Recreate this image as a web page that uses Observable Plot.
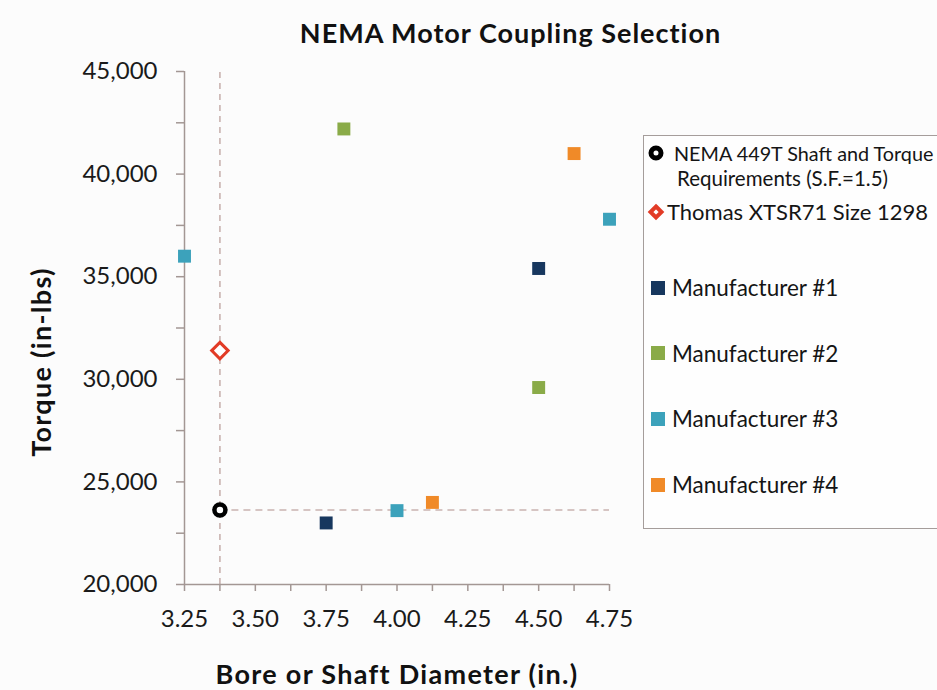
<!DOCTYPE html>
<html><head><meta charset="utf-8">
<script src="https://cdn.jsdelivr.net/npm/d3@7"></script>
<script src="https://cdn.jsdelivr.net/npm/@observablehq/plot@0.6"></script>
<style>
body{margin:0;background:#fcfcfc;font-family:Lato,"Open Sans",sans-serif;overflow:hidden;}
#wrap{position:relative;width:937px;height:690px;overflow:hidden;background:#fcfcfc;}
#title{height:55px;box-sizing:border-box;padding-top:16px;padding-left:84px;text-align:center;font-weight:bold;font-size:27px;letter-spacing:1px;line-height:34px;color:#111;}
#chart svg{display:block;}
#chart g[font-weight="bold"] text{letter-spacing:1.3px;}
#legend{position:absolute;left:643px;top:135px;width:330px;height:394px;border:1.5px solid #a59d9b;background:#fefefe;box-sizing:border-box;}
.row{position:absolute;left:0;display:flex;align-items:center;white-space:nowrap;color:#151515;}
.row svg{flex:none;}
</style></head><body>
<div id="wrap">
<div id="title"></div>
<div id="chart"></div>
<div id="legend"></div>
</div>
<script>
const chartTitle = "NEMA Motor Coupling Selection";
const xLabel = "Bore or Shaft Diameter (in.)";
const yLabel = "Torque (in-lbs)";

const xDomain = [3.25, 4.75];
const yDomain = [20000, 45000];
const xTicks = [3.25, 3.5, 3.75, 4.0, 4.25, 4.5, 4.75];
const xMinorTicks = [3.375, 3.625, 3.875, 4.125, 4.375, 4.625];
const yTicks = [20000, 25000, 30000, 35000, 40000, 45000];
const yMinorTicks = [22500, 27500, 32500, 37500, 42500];

const manufacturers = ["Manufacturer #1", "Manufacturer #2", "Manufacturer #3", "Manufacturer #4"];
const mfrColors = ["#17375e", "#8aab48", "#3ca2bb", "#f08a28"];

const pointMaker = ["Manufacturer #1", "Manufacturer #1", "Manufacturer #2", "Manufacturer #2",
  "Manufacturer #3", "Manufacturer #3", "Manufacturer #3", "Manufacturer #4", "Manufacturer #4"];
const pointBore = [3.75, 4.5, 3.8125, 4.5, 3.25, 4.0, 4.75, 4.125, 4.625];
const pointTorque = [23000, 35400, 42200, 29600, 36000, 23600, 37800, 24000, 41000];

const requirementLabel = ["NEMA 449T Shaft and Torque", "Requirements (S.F.=1.5)"];
const requirementBore = [3.375];
const requirementTorque = [23634];

const thomasLabel = "Thomas XTSR71 Size 1298";
const thomasBore = [3.375];
const thomasTorque = [31400];

const axisColor = "#a39794";
const dashColor = "#c9b3b0";
const thomasColor = "#e23b26";

const points = pointBore.map((b, i) => ({bore: b, torque: pointTorque[i], maker: pointMaker[i]}));
const req = requirementBore.map((b, i) => ({bore: b, torque: requirementTorque[i]}));
const thomas = thomasBore.map((b, i) => ({bore: b, torque: thomasTorque[i]}));

document.getElementById("title").textContent = chartTitle;

const plot = Plot.plot({
  width: 937, height: 635,
  marginLeft: 184, marginRight: 328, marginTop: 16, marginBottom: 106,
  style: {background: "transparent", fontFamily: "Lato, 'Open Sans', sans-serif", fontSize: "24px", color: "#1a1a1a"},
  x: {domain: xDomain},
  y: {domain: yDomain},
  color: {domain: manufacturers, range: mfrColors},
  marks: [
    Plot.ruleX(req, {x: "bore", y1: yDomain[0], y2: yDomain[1], stroke: dashColor, strokeWidth: 1.6, strokeDasharray: "6,5"}),
    Plot.ruleY(req, {y: "torque", x1: "bore", x2: xDomain[1], stroke: dashColor, strokeWidth: 1.6, strokeDasharray: "7,5"}),
    Plot.axisX(xTicks, {tickSize: 7, tickPadding: 18, stroke: axisColor, strokeWidth: 1.5, tickFormat: d => d.toFixed(2), label: null, fill: "#1a1a1a"}),
    Plot.axisX(xMinorTicks, {tickSize: 7, stroke: axisColor, strokeWidth: 1.5, tickFormat: () => "", label: null}),
    Plot.axisY(yTicks, {tickSize: 8, tickPadding: 19, stroke: axisColor, strokeWidth: 1.5, tickFormat: d3.format(","), label: null, fill: "#1a1a1a"}),
    Plot.axisY(yMinorTicks, {tickSize: 8, stroke: axisColor, strokeWidth: 1.5, tickFormat: () => "", label: null}),
    Plot.ruleX([xDomain[0]], {stroke: axisColor, strokeWidth: 1.5}),
    Plot.ruleY([yDomain[0]], {stroke: axisColor, strokeWidth: 1.5}),
    Plot.dot(points, {x: "bore", y: "torque", fill: "maker", symbol: "square", r: 7.3}),
    Plot.dot(thomas, {x: "bore", y: "torque", symbol: "diamond2", r: 7.4, stroke: thomasColor, strokeWidth: 3, fill: "white"}),
    Plot.dot(req, {x: "bore", y: "torque", r: 5.5, stroke: "black", strokeWidth: 4.5, fill: "white"}),
    Plot.text([yLabel], {frameAnchor: "left", textAnchor: "middle", rotate: -90, dx: -142, dy: 34, fontWeight: "bold", fontSize: 27, fill: "#111"}),
    Plot.text([xLabel], {frameAnchor: "bottom", textAnchor: "middle", lineAnchor: "middle", dy: 91, fontWeight: "bold", fontSize: 27, fill: "#111"})
  ]
});
document.getElementById("chart").appendChild(plot);

// legend
const legend = document.getElementById("legend");
function addRow(top, symbolSvg, text, fontSize, left, gap) {
  const row = document.createElement("div");
  row.className = "row";
  row.style.top = top + "px";
  row.style.fontSize = fontSize + "px";
  row.style.height = "26px";
  row.style.left = left + "px";
  row.innerHTML = symbolSvg + `<span style="margin-left:${gap}px">${text}</span>`;
  legend.appendChild(row);
  return row;
}
const circleSvg = `<svg width="20" height="20"><circle cx="10" cy="10" r="5" fill="white" stroke="black" stroke-width="5"/></svg>`;
const blankSvg = `<svg width="20" height="20"></svg>`;
const diamondSvg = `<svg width="20" height="20"><path d="M10,4.5L15.5,10L10,15.5L4.5,10Z" fill="white" stroke="${thomasColor}" stroke-width="4"/></svg>`;
const squareSvg = c => `<svg width="18" height="20"><rect x="2" y="3" width="14" height="14" fill="${c}"/></svg>`;

addRow(3.5, circleSvg, requirementLabel[0], 19.8, 2, 8);
addRow(28.5, blankSvg, requirementLabel[1], 20.5, 2, 11);
addRow(62.5, diamondSvg, thomasLabel, 22, 2, 1);
manufacturers.forEach((m, i) => addRow(138.5 + i * 65.7, squareSvg(mfrColors[i]), m, 22.5, 5, 5));
</script>
</body></html>
